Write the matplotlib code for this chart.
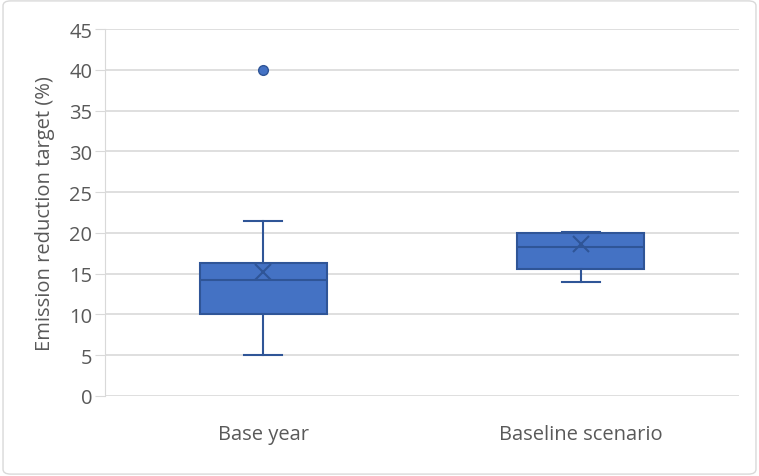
import matplotlib.pyplot as plt
from matplotlib.patches import FancyBboxPatch

# Box plot summary values
categories = ["Base year", "Baseline scenario"]
whisker_low = [5.0, 14.0]
q1 = [10.0, 15.6]
median = [14.2, 18.3]
q3 = [16.3, 20.0]
whisker_high = [21.4, 20.1]
mean = [15.2, 18.6]
outliers = [[40.0], []]

fill = "#4472C4"
edge = "#2F5597"
text_col = "#595959"

stats = []
for i, name in enumerate(categories):
    stats.append({
        "label": name,
        "whislo": whisker_low[i], "q1": q1[i], "med": median[i],
        "q3": q3[i], "whishi": whisker_high[i], "mean": mean[i],
        "fliers": outliers[i],
    })

fig = plt.figure(figsize=(7.59, 4.77), dpi=100)
plt.rcParams["font.family"] = ["Open Sans", "DejaVu Sans"]
ax = fig.add_axes([0.138, 0.168, 0.836, 0.769])

ax.bxp(stats, positions=[0, 1], widths=0.4, patch_artist=True,
       showmeans=True, meanline=False,
       boxprops=dict(facecolor=fill, edgecolor=edge, linewidth=1.5),
       medianprops=dict(color=edge, linewidth=1.5),
       whiskerprops=dict(color=edge, linewidth=1.5),
       capprops=dict(color=edge, linewidth=1.5),
       capwidths=0.12,
       meanprops=dict(marker="x", markeredgecolor=edge, markersize=12,
                      markeredgewidth=1.5),
       flierprops=dict(marker="o", markerfacecolor=fill, markeredgecolor=edge,
                       markersize=7))

ax.set_xlim(-0.5, 1.5)
ax.set_ylim(0, 45)
ax.set_yticks(range(0, 50, 5))
ax.yaxis.grid(True, color="#D9D9D9", linewidth=1.2)
ax.set_axisbelow(True)
for s in ["top", "right", "bottom"]:
    ax.spines[s].set_visible(False)
ax.spines["left"].set_color("#D9D9D9")
ax.tick_params(axis="y", length=7, color="#D9D9D9", labelcolor=text_col,
               labelsize=14.5, pad=2)
ax.tick_params(axis="x", length=0, labelcolor=text_col, labelsize=14.5, pad=20)
ax.set_ylabel("Emission reduction target (%)", color=text_col, fontsize=14.5,
              labelpad=10)

border = FancyBboxPatch((0.004, 0.004), 0.992, 0.992, boxstyle="round,pad=0,rounding_size=0.01",
                        transform=fig.transFigure, fill=False, edgecolor="#D9D9D9", linewidth=1)
fig.patches.append(border)

fig.savefig("out.png", dpi=100)
